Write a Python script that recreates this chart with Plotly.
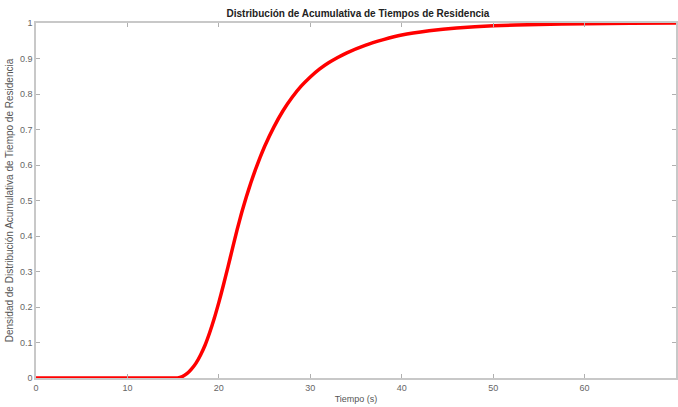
import plotly.graph_objects as go

tiempo = [0, 5, 10, 15, 15.5, 16, 16.5, 17, 17.5, 18, 18.5, 19, 19.5, 20, 20.5, 21, 21.5, 22,
          22.5, 23, 23.5, 24, 24.5, 25, 26, 27, 28, 29, 30, 31, 32, 33, 34, 36, 38, 40, 43,
          46, 50, 55, 60, 65, 70]
F = [0, 0, 0, 0, 0.0, 0.004, 0.012, 0.025, 0.042, 0.065, 0.093, 0.128, 0.168, 0.213, 0.262,
     0.313, 0.366, 0.418, 0.466, 0.51, 0.55, 0.587, 0.621, 0.652, 0.706, 0.752, 0.79, 0.822,
     0.848, 0.87, 0.888, 0.903, 0.916, 0.937, 0.953, 0.966, 0.978, 0.986, 0.992, 0.996, 0.998,
     0.999, 1.0]

x_ticks = [0, 10, 20, 30, 40, 50, 60, 70]
y_ticks = [0, 0.1, 0.2, 0.3, 0.4, 0.5, 0.6, 0.7, 0.8, 0.9, 1]
y_labels = ["0", "0.1", "0.2", "0.3", "0.4", "0.5", "0.6", "0.7", "0.8", "0.9", "1"]

fig = go.Figure()
fig.add_trace(go.Scatter(x=tiempo, y=F, mode="lines",
                         line=dict(color="#ff0000", width=3.5, shape="spline", smoothing=0.3),
                         showlegend=False))

axis_common = dict(showgrid=False, zeroline=False, showline=True, linecolor="#c8c8c8",
                   linewidth=1.5, mirror="ticks", ticks="inside", ticklen=4,
                   tickcolor="#b0b0b0", tickfont=dict(family="Liberation Sans", size=9, color="#666666"))

fig.update_layout(
    width=678, height=407,
    margin=dict(l=36, r=0, t=23, b=29),
    paper_bgcolor="white", plot_bgcolor="white",
    title=dict(text="<b>Distribución de Acumulativa de Tiempos de Residencia</b>",
               x=0.528, xanchor="center", y=0.966, yanchor="middle",
               font=dict(family="Liberation Sans", size=10, color="#222222")),
    xaxis=dict(range=[0, 70], tickvals=x_ticks,
               title=dict(text="Tiempo (s)", standoff=4,
                          font=dict(family="Liberation Sans", size=9, color="#555555")),
               **axis_common),
    yaxis=dict(range=[0, 1], tickvals=y_ticks, ticktext=y_labels,
               title=dict(text="Densidad de Distribución Acumulativa de Tiempo de Residencia", standoff=4,
                          font=dict(family="Liberation Sans", size=10, color="#555555")),
               **axis_common),
)

fig.write_html("out.html")
